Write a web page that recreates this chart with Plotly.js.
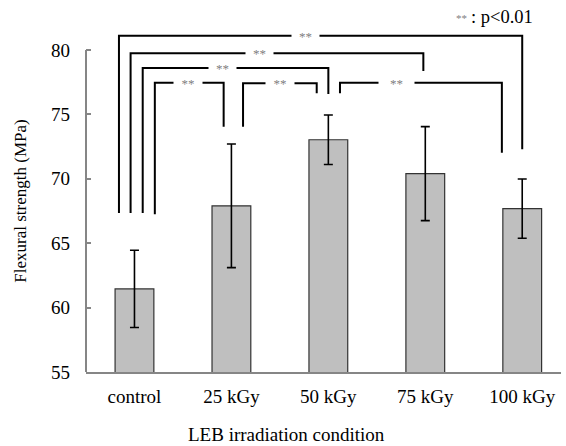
<!DOCTYPE html>
<html>
<head>
<meta charset="utf-8">
<script src="https://cdn.plot.ly/plotly-3.0.1.min.js"></script>
<style>html,body{margin:0;padding:0;background:#fff;}#chart{width:566px;height:446px;}</style>
</head>
<body>
<div id="chart"></div>
<script>
// Data
const categories = ["control", "25 kGy", "50 kGy", "75 kGy", "100 kGy"];
const strength = [61.45, 67.9, 73.03, 70.4, 67.68];
const errors = [3.0, 4.8, 1.92, 3.65, 2.3];
const yTicks = [55, 60, 65, 70, 75, 80];

// Significance brackets (category index positions / MPa levels)
const bracketLeft = [-0.16, -0.04, 0.085, 0.21, 1.12, 2.12];
const bracketRight = [4.0, 2.98, 2.0, 0.92, 1.88, 3.79];
const bracketTop = [81.11, 79.74, 78.6, 77.46, 77.41, 77.46];
const bracketLeftEnd = [67.34, 67.34, 67.34, 67.24, 74.04, 76.64];
const bracketRightEnd = [72.29, 78.37, 76.58, 74.04, 76.64, 72.03];
const bracketLabelX = [1.76, 1.29, 0.91, 0.55, 1.5, 2.7];
const bracketLabel = ["**", "**", "**", "**", "**", "**"];
const bracketGap = [27, 27, 27, 28, 28, 35];

const FONT = "'Liberation Serif', 'Times New Roman', serif";

const trace = {
  type: 'bar',
  x: categories.map((c, i) => i),
  y: strength,
  width: 0.4,
  marker: {color: '#bfbfbf', line: {color: '#333333', width: 1.2}},
  error_y: {type: 'data', array: errors, visible: true, color: '#000000', thickness: 1.6, width: 4.5},
  hoverinfo: 'skip'
};

const shapes = [];
// visible y axis line from 55 to 80
shapes.push({type: 'line', xref: 'paper', yref: 'y', x0: 0, x1: 0, y0: yTicks[0], y1: yTicks[yTicks.length - 1],
  line: {color: '#868686', width: 2}});
const annotations = [];
for (let i = 0; i < bracketLeft.length; i++) {
  const p = 'M ' + bracketLeft[i] + ',' + bracketLeftEnd[i] +
            ' L ' + bracketLeft[i] + ',' + bracketTop[i] +
            ' L ' + bracketRight[i] + ',' + bracketTop[i] +
            ' L ' + bracketRight[i] + ',' + bracketRightEnd[i];
  shapes.push({type: 'path', xref: 'x', yref: 'y', path: p, line: {color: '#000000', width: 2}});
  annotations.push({xref: 'x', yref: 'y', x: bracketLabelX[i], y: bracketTop[i], text: bracketLabel[i],
    showarrow: false, xanchor: 'center', yanchor: 'middle', bgcolor: '#ffffff', borderpad: 0,
    width: bracketGap[i], height: 12, font: {family: FONT, size: 13, color: '#808080'}});
}
// significance legend
annotations.push({xref: 'paper', yref: 'paper', x: 0.807, y: 1.034, text: '**', showarrow: false,
  xanchor: 'right', yanchor: 'middle', font: {family: FONT, size: 11, color: '#808080'}});
annotations.push({xref: 'paper', yref: 'paper', x: 0.806, y: 1.038, text: ': p&lt;0.01', showarrow: false,
  xanchor: 'left', yanchor: 'middle', font: {family: FONT, size: 18.5, color: '#000000'}});
// x axis title
annotations.push({xref: 'paper', yref: 'paper', x: 0.4225, y: -0.184, text: 'LEB irradiation condition', showarrow: false,
  xanchor: 'center', yanchor: 'middle', font: {family: FONT, size: 19, color: '#000000'}});

const layout = {
  width: 566, height: 446,
  margin: {l: 86, r: 5, t: 30, b: 74},
  paper_bgcolor: '#ffffff', plot_bgcolor: '#ffffff',
  showlegend: false,
  font: {family: FONT, color: '#000000'},
  bargap: 0.6,
  xaxis: {
    range: [-0.5, 4.4],
    tickmode: 'array', tickvals: categories.map((c, i) => i), ticktext: categories,
    showline: true, linecolor: '#868686', linewidth: 2,
    ticks: '', showgrid: false, zeroline: false,
    tickfont: {family: FONT, size: 19, color: '#000000'},
    ticklabelstandoff: 6
  },
  yaxis: {
    range: [55, 81.55],
    tickmode: 'array', tickvals: yTicks,
    showline: false, ticks: 'inside', ticklen: 5, tickwidth: 2, tickcolor: '#868686',
    showgrid: false, zeroline: false,
    tickfont: {family: FONT, size: 19, color: '#000000'},
    ticklabelstandoff: 15,
    title: {text: 'Flexural strength (MPa)', font: {family: FONT, size: 17, color: '#000000'}, standoff: 20}
  },
  shapes: shapes,
  annotations: annotations
};

Plotly.newPlot('chart', [trace], layout, {displayModeBar: false, staticPlot: true});
</script>
</body>
</html>
